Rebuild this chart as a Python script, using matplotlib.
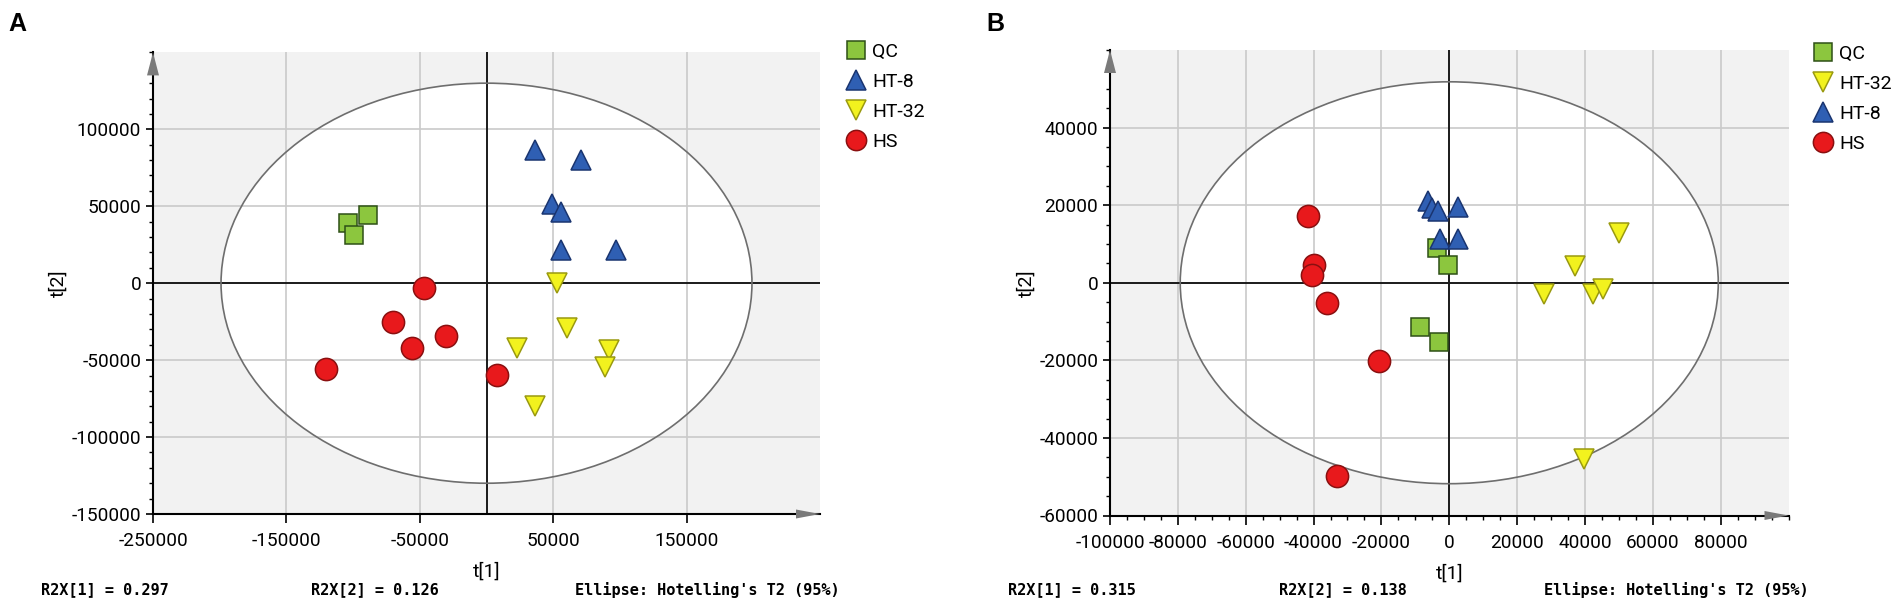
import matplotlib
matplotlib.use("Agg")
import matplotlib.pyplot as plt
from matplotlib.patches import Ellipse, Polygon
from matplotlib.ticker import MultipleLocator, FixedLocator
from matplotlib.lines import Line2D

plt.rcParams['font.family'] = ['Roboto', 'DejaVu Sans']
plt.rcParams['axes.unicode_minus'] = False

# ---------------- data: panel A ----------------
qc_a_x = [-103500, -88900, -99200]
qc_a_y = [38900, 44000, 31400]
ht8_a_x = [36700, 70600, 49000, 56100, 56100, 97000]
ht8_a_y = [86500, 79900, 51600, 46200, 21800, 21800]
ht32_a_x = [53000, 60100, 22900, 91500, 88700, 36100]
ht32_a_y = [400, -29400, -42100, -43100, -54700, -80000]
hs_a_x = [-47000, -70000, -55700, -30100, -120300, 7800]
hs_a_y = [-2900, -25300, -42100, -34400, -55800, -59500]
xticks_a = [-250000, -150000, -50000, 50000, 150000]
yticks_a = [-150000, -100000, -50000, 0, 50000, 100000]
ellipse_a = (199000, 130000)
legend_a = ['QC', 'HT-8', 'HT-32', 'HS']
notes_a = ['R2X[1] = 0.297', 'R2X[2] = 0.126', "Ellipse: Hotelling's T2 (95%)"]

# ---------------- data: panel B ----------------
qc_b_x = [-3700, -300, -8500, -3000]
qc_b_y = [8900, 4600, -11300, -15200]
ht32_b_x = [50000, 37200, 27900, 42300, 45300, 39800]
ht32_b_y = [12700, 4300, -3000, -3000, -1700, -45400]
ht8_b_x = [-6400, -5200, -3300, 2700, -2600, 2700]
ht8_b_y = [21100, 19200, 18500, 19600, 11400, 11200]
hs_b_x = [-41600, -39900, -40600, -36100, -20600, -33100]
hs_b_y = [17200, 4600, 2000, -5300, -20300, -49900]
xticks_b = [-100000, -80000, -60000, -40000, -20000, 0, 20000, 40000, 60000, 80000]
yticks_b = [-60000, -40000, -20000, 0, 20000, 40000]
ellipse_b = (79300, 51800)
legend_b = ['QC', 'HT-32', 'HT-8', 'HS']
notes_b = ['R2X[1] = 0.315', 'R2X[2] = 0.138', "Ellipse: Hotelling's T2 (95%)"]

STYLE = {
    'QC':    dict(marker='s', mfc='#8cc63e', mec='#2d5016', ms=13.2, lsize=13.0),
    'HT-8':  dict(marker='^', mfc='#2f5fb3', mec='#1a3570', ms=13.8, lsize=14.0),
    'HT-32': dict(marker='v', mfc='#f2f21e', mec='#9a9a10', ms=13.8, lsize=14.0),
    'HS':    dict(marker='o', mfc='#e8191c', mec='#8a1010', ms=16.0, lsize=14.6),
}

W, H = 1901, 610
fig = plt.figure(figsize=(W / 100, H / 100), dpi=100)


def px_axes(l, r, t, b):
    return fig.add_axes([l / W, 1 - b / H, (r - l) / W, (b - t) / H])


def setup(ax, xlim, ylim, xticks, yticks, xminor, yminor, ell, groups, ylab_x):
    ax.set_xlim(*xlim)
    ax.set_ylim(*ylim)
    ax.set_facecolor('#f2f2f2')
    for s in ('top', 'right'):
        ax.spines[s].set_visible(False)
    for s in ('left', 'bottom'):
        ax.spines[s].set_linewidth(1.5)
        ax.spines[s].set_color('black')
    # grid
    for v in xticks:
        if v not in (0, xlim[0]):
            ax.axvline(v, color='#cacaca', lw=1.2, zorder=1)
    for v in yticks:
        if v not in (0, ylim[0]):
            ax.axhline(v, color='#cacaca', lw=1.2, zorder=1)
    # ellipse
    ax.add_patch(Ellipse((0, 0), 2 * ell[0], 2 * ell[1], facecolor='white',
                         edgecolor='none', zorder=0.5))
    ax.add_patch(Ellipse((0, 0), 2 * ell[0], 2 * ell[1], facecolor='none',
                         edgecolor='#6e6e6e', lw=1.2, zorder=1.6))
    ax.axhline(0, color='#1a1a1a', lw=1.4, zorder=1.5)
    ax.axvline(0, color='#1a1a1a', lw=1.4, zorder=1.5)
    # ticks
    ax.xaxis.set_major_locator(FixedLocator(xticks))
    ax.yaxis.set_major_locator(FixedLocator(yticks))
    ax.set_xticklabels([str(v) for v in xticks])
    ax.set_yticklabels([str(v) for v in yticks])
    if xminor:
        ax.xaxis.set_minor_locator(MultipleLocator(xminor))
    if yminor:
        ax.yaxis.set_minor_locator(MultipleLocator(yminor))
    ax.tick_params(axis='both', which='major', direction='out', length=6.5,
                   width=1.2, labelsize=13.7, color='black')
    ax.tick_params(axis='both', which='minor', direction='out', length=3.2,
                   width=1.0, color='black')
    ax.tick_params(axis='x', which='major', pad=6.5)
    ax.tick_params(axis='y', which='major', pad=3.5, length=5)
    # points
    for (name, xs, ys) in groups:
        st = STYLE[name]
        ax.plot(xs, ys, ls='none', marker=st['marker'], mfc=st['mfc'],
                mec=st['mec'], ms=st['ms'], mew=1.1, zorder=3)
    # labels
    ax.set_xlabel('t[1]', fontsize=14)
    ax.set_ylabel('t[2]', fontsize=14)
    pos = ax.get_position()
    hpx = pos.height * H
    wpx = pos.width * W
    ax.xaxis.set_label_coords(0.5, -58 / hpx)
    ax.xaxis.label.set_va('center')
    ax.yaxis.set_label_coords(ylab_x / wpx, 0.5)
    ax.yaxis.label.set_va('center')
    # arrowheads
    L, hw = 23, 6
    ax.add_patch(Polygon([(0, 1), (-hw / wpx, 1 - L / hpx), (hw / wpx, 1 - L / hpx)],
                         closed=True, transform=ax.transAxes, clip_on=False,
                         facecolor='#7a7a7a', edgecolor='none', zorder=6))
    L2, hh = 24, 4.5
    ax.add_patch(Polygon([(1, 0), (1 - L2 / wpx, hh / hpx), (1 - L2 / wpx, -hh / hpx)],
                         closed=True, transform=ax.transAxes, clip_on=False,
                         facecolor='#7a7a7a', edgecolor='none', zorder=6))


def add_legend(ax, names, x_px, top_px):
    handles = []
    for n in names:
        st = STYLE[n]
        handles.append(Line2D([], [], ls='none', marker=st['marker'], mfc=st['mfc'],
                              mec=st['mec'], ms=st['lsize'], mew=1.1, label=n))
    ax.legend(handles=handles, loc='upper left',
              bbox_to_anchor=(x_px / W, 1 - top_px / H), bbox_transform=fig.transFigure,
              frameon=False, borderpad=0, borderaxespad=0, handlelength=0.9,
              handletextpad=0.4, labelspacing=0.62, fontsize=14)


axA = px_axes(153, 820, 52.4, 514)
setup(axA, (-250000, 250000), (-150000, 150000), xticks_a, yticks_a, None, 10000,
      ellipse_a,
      [('QC', qc_a_x, qc_a_y), ('HT-8', ht8_a_x, ht8_a_y),
       ('HT-32', ht32_a_x, ht32_a_y), ('HS', hs_a_x, hs_a_y)], 58 - 153)
add_legend(axA, legend_a, 847, 43)

axB = px_axes(1110, 1788.5, 50, 515.5)
setup(axB, (-100000, 100000), (-60000, 60000), xticks_b, yticks_b, 5000, 5000,
      ellipse_b,
      [('QC', qc_b_x, qc_b_y), ('HT-32', ht32_b_x, ht32_b_y),
       ('HT-8', ht8_b_x, ht8_b_y), ('HS', hs_b_x, hs_b_y)], 1026 - 1110)
add_legend(axB, legend_b, 1814, 45)

# panel letters
fig.text(8 / W, 1 - 24 / H, 'A', fontsize=18, fontweight='bold',
         family=['Liberation Sans', 'DejaVu Sans'], va='center', ha='left')
fig.text(986 / W, 1 - 24 / H, 'B', fontsize=18, fontweight='bold',
         family=['Liberation Sans', 'DejaVu Sans'], va='center', ha='left')

# footnotes
for txt, xp in zip(notes_a, [41, 311, 575]):
    fig.text(xp / W, 1 - 590 / H, txt, fontsize=11, fontweight='bold',
             family=['DejaVu Sans Mono'], va='center', ha='left')
for txt, xp in zip(notes_b, [1008, 1279, 1544]):
    fig.text(xp / W, 1 - 590 / H, txt, fontsize=11, fontweight='bold',
             family=['DejaVu Sans Mono'], va='center', ha='left')

fig.savefig('out.png', dpi=100)
